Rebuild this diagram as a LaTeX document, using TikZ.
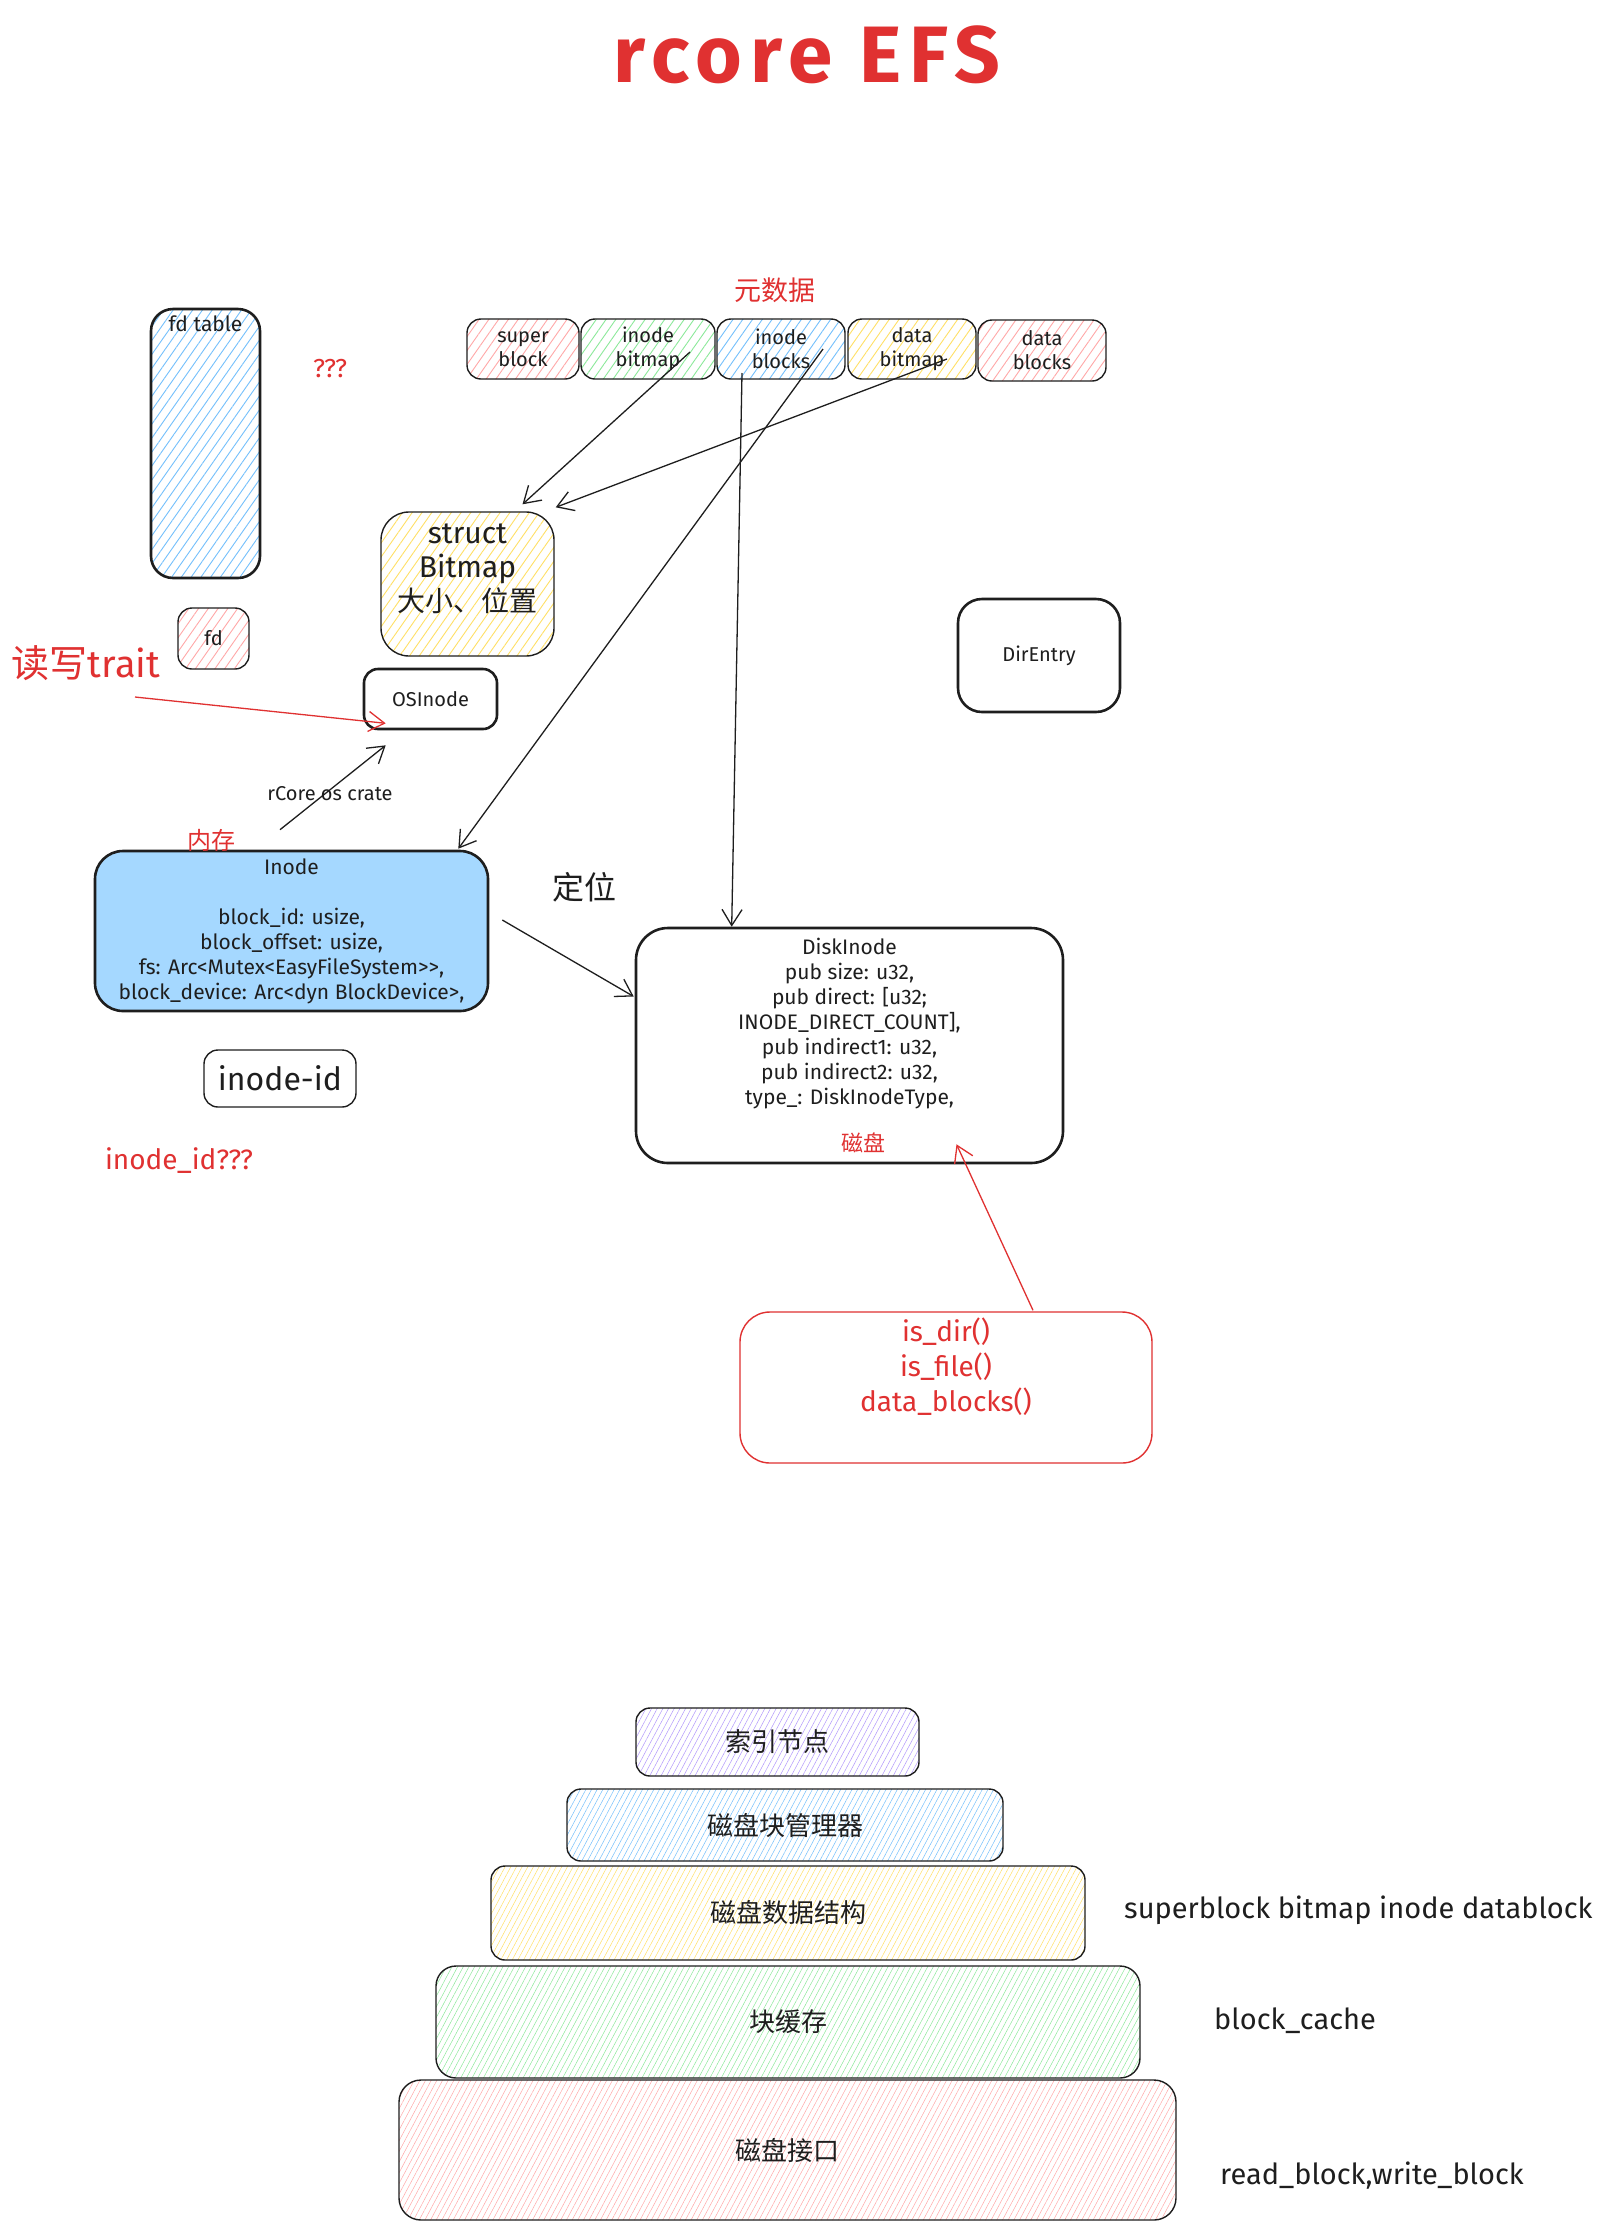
\documentclass[tikz,border=0pt]{standalone}
\usepackage{fontspec}
\setmainfont{Fira Sans}
\newfontfamily\cjk{Noto Sans CJK SC}
\newfontfamily\titlefont[LetterSpace=10]{Fira Sans}
\usetikzlibrary{arrows.meta,calc,patterns.meta}
\definecolor{ink}{HTML}{1E1E1E}
\definecolor{xred}{HTML}{E03131}
\definecolor{hpink}{HTML}{FFA8A8}
\definecolor{hgreen}{HTML}{8CE99A}
\definecolor{hblue}{HTML}{74C0FC}
\definecolor{hyellow}{HTML}{FFE066}
\definecolor{hpurple}{HTML}{B197FC}
\definecolor{solidblue}{HTML}{A5D8FF}
\tikzset{
  box/.style={draw=ink, rounded corners=14pt, line width=1.4pt, align=center,
    font=\fontsize{20}{24}\selectfont, text=ink, inner sep=0pt},
  thickbox/.style={box, line width=2.6pt},
  hatch/.style={pattern={Lines[angle=55,distance=8pt,line width=0.9pt]}, pattern color=#1},
  finehatch/.style={pattern={Lines[angle=62,distance=5pt,line width=0.5pt]}, pattern color=#1},
  arr/.style={draw=ink, line width=1.3pt, -{Straight Barb[length=16pt,width=20pt,line width=1.3pt]}},
  redarr/.style={arr, draw=xred},
  lbl/.style={inner sep=0pt, text=ink, font=\fontsize{20}{24}\selectfont},
  redlbl/.style={inner sep=0pt, text=xred},
  stacktxt/.style={font=\cjk\fontsize{26}{30}\selectfont},
  sidelbl/.style={lbl, anchor=west, font=\fontsize{29}{32}\selectfont},
}
\begin{document}
\begin{tikzpicture}[x=1pt,y=-1pt]
\fill[white] (0,0) rectangle (1597,2231);
\useasboundingbox (0,0) rectangle (1597,2231);

% title
\node[redlbl, font=\titlefont\bfseries\fontsize{80}{90}\selectfont] (title) at (807,55) {rcore EFS};
\node[redlbl, font=\cjk\fontsize{27}{30}\selectfont] (meta) at (775,290) {元数据};

% metadata strip
\node[box, hatch=hpink, minimum width=112pt, minimum height=60pt] (sb) at (523,349) {super\\block};
\node[box, hatch=hgreen, minimum width=134pt, minimum height=60pt] (ib) at (648,349) {inode\\bitmap};
\node[box, hatch=hblue, minimum width=128pt, minimum height=60pt] (iblk) at (781,349) {inode\\blocks};
\node[box, hatch=hyellow, minimum width=128pt, minimum height=60pt] (dbm) at (912,349) {data\\bitmap};
\node[box, hatch=hpink, minimum width=128pt, minimum height=61pt] (dblk) at (1042,350.5) {data\\blocks};

% fd table
\node[thickbox, hatch=hblue, rounded corners=22pt, minimum width=109pt, minimum height=269pt,
  label={[lbl, font=\fontsize{21}{24}\selectfont, anchor=north, yshift=-8pt]north:fd table}] (fdt) at (205.5,443.5) {};
\node[redlbl, font=\fontsize{26}{30}\selectfont] (qq) at (330,369) {???};

% struct Bitmap
\node[box, hatch=hyellow, rounded corners=28pt, minimum width=173pt, minimum height=144pt,
  font=\fontsize{30}{34}\selectfont] (bm) at (467.5,584) {struct\\Bitmap\\{\cjk\fontsize{28}{34}\selectfont 大小、位置}\\[-12pt]\strut};

% fd
\node[box, hatch=hpink, minimum width=71pt, minimum height=61pt] (fd) at (213.5,638.5) {fd};

% read/write trait
\node[redlbl, font=\fontsize{38}{42}\selectfont] (rw) at (86,663) {{\cjk 读写}trait};
\coordinate (rwS) at (135,697);

% OSInode
\node[thickbox, minimum width=133pt, minimum height=60pt] (osi) at (430.5,699) {OSInode};

% DirEntry
\node[thickbox, rounded corners=24pt, minimum width=162pt, minimum height=113pt] (de) at (1039,655.5) {DirEntry};

% Inode
\node[thickbox, fill=solidblue, rounded corners=28pt, minimum width=393pt, minimum height=160pt,
  font=\fontsize{21}{25}\selectfont] (inode) at (291.5,931)
  {Inode\\[25pt]block\_id: usize,\\block\_offset: usize,\\fs: Arc<{}Mutex<{}EasyFileSystem>{}>,\\block\_device: Arc<{}dyn BlockDevice>,};

\node[lbl] (crate) at (330,794) {rCore os crate};
\node[redlbl, font=\cjk\fontsize{24}{28}\selectfont] (mem) at (211,840) {内存};
\node[lbl, font=\cjk\fontsize{32}{36}\selectfont] (loc) at (584,887) {定位};

% DiskInode
\node[thickbox, rounded corners=32pt, minimum width=427pt, minimum height=235pt,
  font=\fontsize{21}{25}\selectfont] (dinode) at (849.5,1045.5)
  {DiskInode\\pub size: u32,\\pub direct: [u32;\\INODE\_DIRECT\_COUNT],\\pub indirect1: u32,\\pub indirect2: u32,\\type\_: DiskInodeType,\\[22pt]\hspace*{28pt}{\cjk\fontsize{22}{25}\selectfont\color{xred}磁盘}};

% inode-id
\node[box, minimum width=152pt, minimum height=57pt, font=\fontsize{32}{36}\selectfont] (iid) at (280,1078.5) {inode-id};
\node[redlbl, font=\fontsize{28}{30}\selectfont] (iidq) at (179,1161) {inode\_id???};

% red box
\node[box, draw=xred, text=xred, rounded corners=30pt, minimum width=412pt, minimum height=151pt,
  font=\fontsize{28}{35}\selectfont] (rbox) at (946,1387.5) {is\_dir()\\is\_file()\\data\_blocks()\\\strut};

% arrows
\draw[arr] ($(ib.center)+(42,3)$) -- ($(bm.north)+(55,-7)$);
\draw[arr] ($(dbm.center)+(35,10)$) -- ($(bm.north east)+(1,-4)$);
\draw[arr] ($(iblk.center)+(42,0)$) -- ($(inode.north east)+(-31,-1)$);
\draw[arr] ($(iblk.center)+(-39,24)$) -- ($(dinode.north west)+(97,0)$);
\draw[arr] ($(inode.east)+(13,-11)$) -- ($(dinode.west)+(-1,-49)$);
\draw[arr] ($(inode.north)+(-11.5,-20)$) -- ($(osi.south west)+(23,15)$);
\draw[redarr] (rwS) -- ($(osi.south west)+(23,-7)$);
\draw[redarr] ($(rbox.north)+(87,-1)$) -- ($(dinode.south)+(107,-20)$);

% layered stack
\node[box, finehatch=hpurple, minimum width=283pt, minimum height=68pt, stacktxt] (s1) at (777.5,1742) {索引节点};
\node[box, finehatch=hblue, minimum width=436pt, minimum height=72pt, stacktxt] (s2) at (785,1825) {磁盘块管理器};
\node[box, finehatch=hyellow, minimum width=594pt, minimum height=94pt, stacktxt] (s3) at (788,1913) {磁盘数据结构};
\node[box, finehatch=hgreen, rounded corners=20pt, minimum width=704pt, minimum height=112pt, stacktxt] (s4) at (788,2022) {块缓存};
\node[box, finehatch=hpink, rounded corners=22pt, minimum width=777pt, minimum height=140pt, stacktxt] (s5) at (787.5,2150) {磁盘接口};

\node[sidelbl] (l3) at (1124,1910) {superblock bitmap inode datablock};
\node[sidelbl] (l4) at (1214,2021) {block\_cache};
\node[sidelbl] (l5) at (1220,2176) {read\_block,write\_block};
\end{tikzpicture}
\end{document}
